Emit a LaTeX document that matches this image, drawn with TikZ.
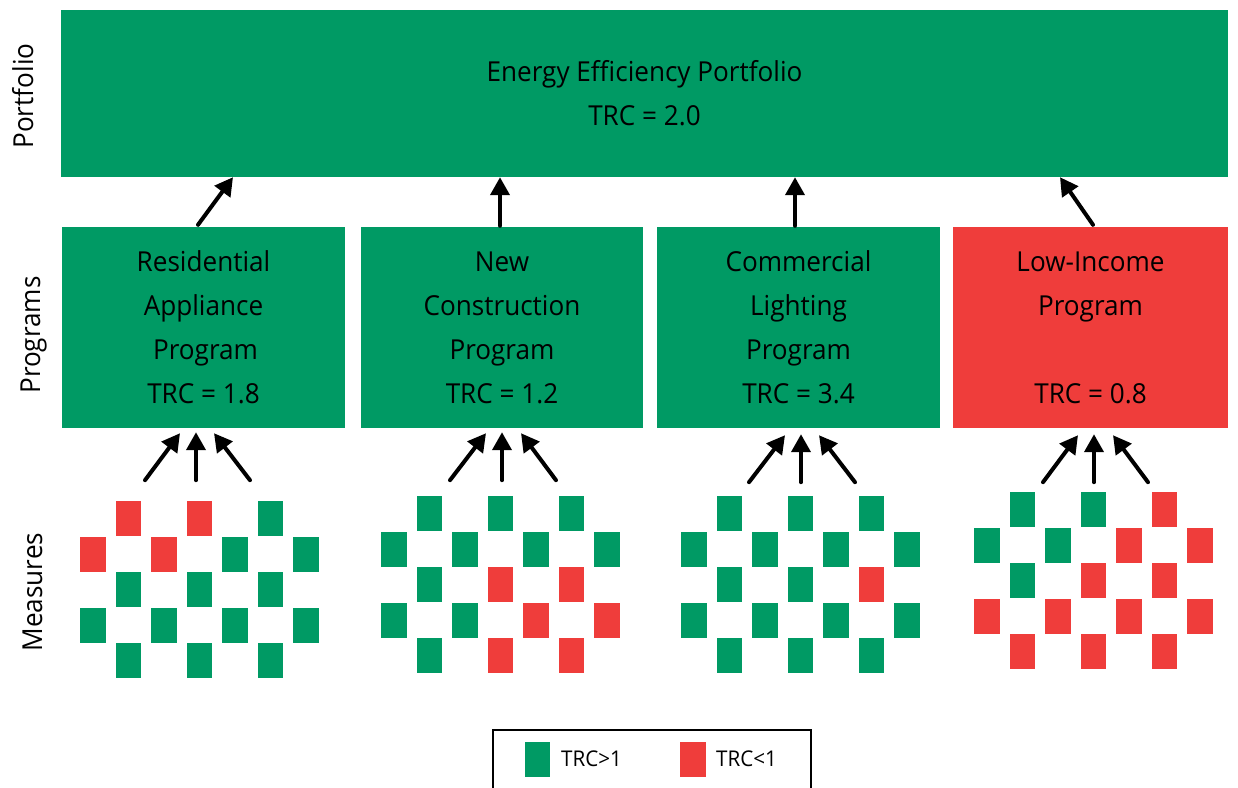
\documentclass[tikz,border=0pt]{standalone}
\usepackage{fontspec}
\setmainfont{Open Sans}[FakeStretch=0.95]
\usetikzlibrary{arrows.meta}
\definecolor{mg}{RGB}{0,154,100}
\definecolor{mr}{RGB}{239,61,59}
\newcommand\msgrid[3]{%
  \foreach \mcol [count=\mi from 0] in {#3}{%
    \pgfmathtruncatemacro\mxc{{1,3,5,0,2,4,6,1,3,5,0,2,4,6,1,3,5}[\mi]}%
    \pgfmathtruncatemacro\myr{{0,0,0,1,1,1,1,2,2,2,3,3,3,3,4,4,4}[\mi]}%
    \fill[\mcol] ({#1+\mxc*35.55},{#2+\myr*35.6}) rectangle ++(25.5,35);
  }}
\begin{document}
\begin{tikzpicture}[x=1pt,y=-1pt,
  txt/.style={font=\fontsize{27.5}{44}\selectfont, align=center, text=black},
  pbox/.style={fill=mg, inner sep=0pt, txt},
  rbox/.style={fill=mr, inner sep=0pt, txt},
  arr/.style={line width=4pt, line cap=round, -{Triangle[length=18pt,width=19pt]}},
  lab/.style={font=\fontsize{27.5}{30}\selectfont, rotate=90, anchor=base},
  legtxt/.style={font=\fontsize{21.7}{25}\selectfont, anchor=west, inner sep=0pt}]
\useasboundingbox (0,0) rectangle (1238,787);
% portfolio
\node[pbox, minimum width=1167pt, minimum height=167pt] (port) at (644.5,93.5)
  {Energy Efficiency Portfolio\\TRC = 2.0};
% programs
\node[pbox, minimum width=283pt, minimum height=201pt] (p1) at (203.5,327.5)
  {Residential\\Appliance\\\hspace*{4pt}Program\\TRC = 1.8};
\node[pbox, minimum width=282pt, minimum height=201pt] (p2) at (502,327.5)
  {New\\Construction\\Program\\TRC = 1.2};
\node[pbox, minimum width=283pt, minimum height=201pt] (p3) at (798.5,327.5)
  {Commercial\\Lighting\\Program\\TRC = 3.4};
\node[rbox, minimum width=275pt, minimum height=201pt] (p4) at (1090.5,327.5)
  {Low-Income\\Program\\~\\TRC = 0.8};
% row labels
\node[lab] (lportfolio) at (33,96) {Portfolio};
\node[lab] (lprograms) at (40,335) {Programs};
\node[lab] (lmeasures) at (42,592) {Measures};
% program -> portfolio arrows
\draw[arr] ([xshift=-5.5pt,yshift=2pt]p1.north) -- ([xshift=-411.5pt]port.south);
\draw[arr] ([xshift=-2pt,yshift=1pt]p2.north) -- ([xshift=-144.5pt]port.south);
\draw[arr] ([xshift=-3.5pt,yshift=1pt]p3.north) -- ([xshift=150.5pt]port.south);
\draw[arr] ([xshift=2.5pt,yshift=2pt]p4.north) -- ([xshift=415.5pt]port.south);
% measures -> program arrows
\draw[arr] ([xshift=-58.5pt,yshift=-52pt]p1.south) -- ([xshift=-23.5pt,yshift=-5pt]p1.south);
\draw[arr] ([xshift=-7.5pt,yshift=-52pt]p1.south) -- ([xshift=-7.5pt,yshift=-4pt]p1.south);
\draw[arr] ([xshift=46.5pt,yshift=-52pt]p1.south) -- ([xshift=10.5pt,yshift=-5pt]p1.south);
\draw[arr] ([xshift=-52pt,yshift=-52pt]p2.south) -- ([xshift=-16pt,yshift=-5pt]p2.south);
\draw[arr] ([xshift=0pt,yshift=-52pt]p2.south) -- ([xshift=0pt,yshift=-4pt]p2.south);
\draw[arr] ([xshift=54pt,yshift=-52pt]p2.south) -- ([xshift=19pt,yshift=-5pt]p2.south);
\draw[arr] ([xshift=-49.5pt,yshift=-54pt]p3.south) -- ([xshift=-13.5pt,yshift=-7pt]p3.south);
\draw[arr] ([xshift=2.5pt,yshift=-54pt]p3.south) -- ([xshift=2.5pt,yshift=-6pt]p3.south);
\draw[arr] ([xshift=56.5pt,yshift=-54pt]p3.south) -- ([xshift=20.5pt,yshift=-7pt]p3.south);
\draw[arr] ([xshift=-47.5pt,yshift=-54pt]p4.south) -- ([xshift=-12.5pt,yshift=-7pt]p4.south);
\draw[arr] ([xshift=3.5pt,yshift=-54pt]p4.south) -- ([xshift=3.5pt,yshift=-6pt]p4.south);
\draw[arr] ([xshift=57.5pt,yshift=-54pt]p4.south) -- ([xshift=22.5pt,yshift=-7pt]p4.south);
% measures
\msgrid{80}{501}{mr,mr,mg, mr,mr,mg,mg, mg,mg,mg, mg,mg,mg,mg, mg,mg,mg}
\msgrid{381}{496}{mg,mg,mg, mg,mg,mg,mg, mg,mr,mr, mg,mg,mr,mr, mg,mr,mr}
\msgrid{681}{496}{mg,mg,mg, mg,mg,mg,mg, mg,mg,mr, mg,mg,mg,mg, mg,mg,mg}
\msgrid{974}{492}{mg,mg,mr, mg,mg,mr,mr, mg,mr,mr, mr,mr,mr,mr, mr,mr,mr}
% legend
\node[draw, line width=1.5pt, minimum width=318pt, minimum height=80pt,
  anchor=north west, inner sep=0pt] (leg) at (492,729) {};
\fill[mg] (525,742) rectangle (550,777);
\node[legtxt] (lg1) at (561,759) {TRC>1};
\fill[mr] (680,742) rectangle (706,777);
\node[legtxt] (lg2) at (716,759) {TRC<1};
\end{tikzpicture}
\end{document}
